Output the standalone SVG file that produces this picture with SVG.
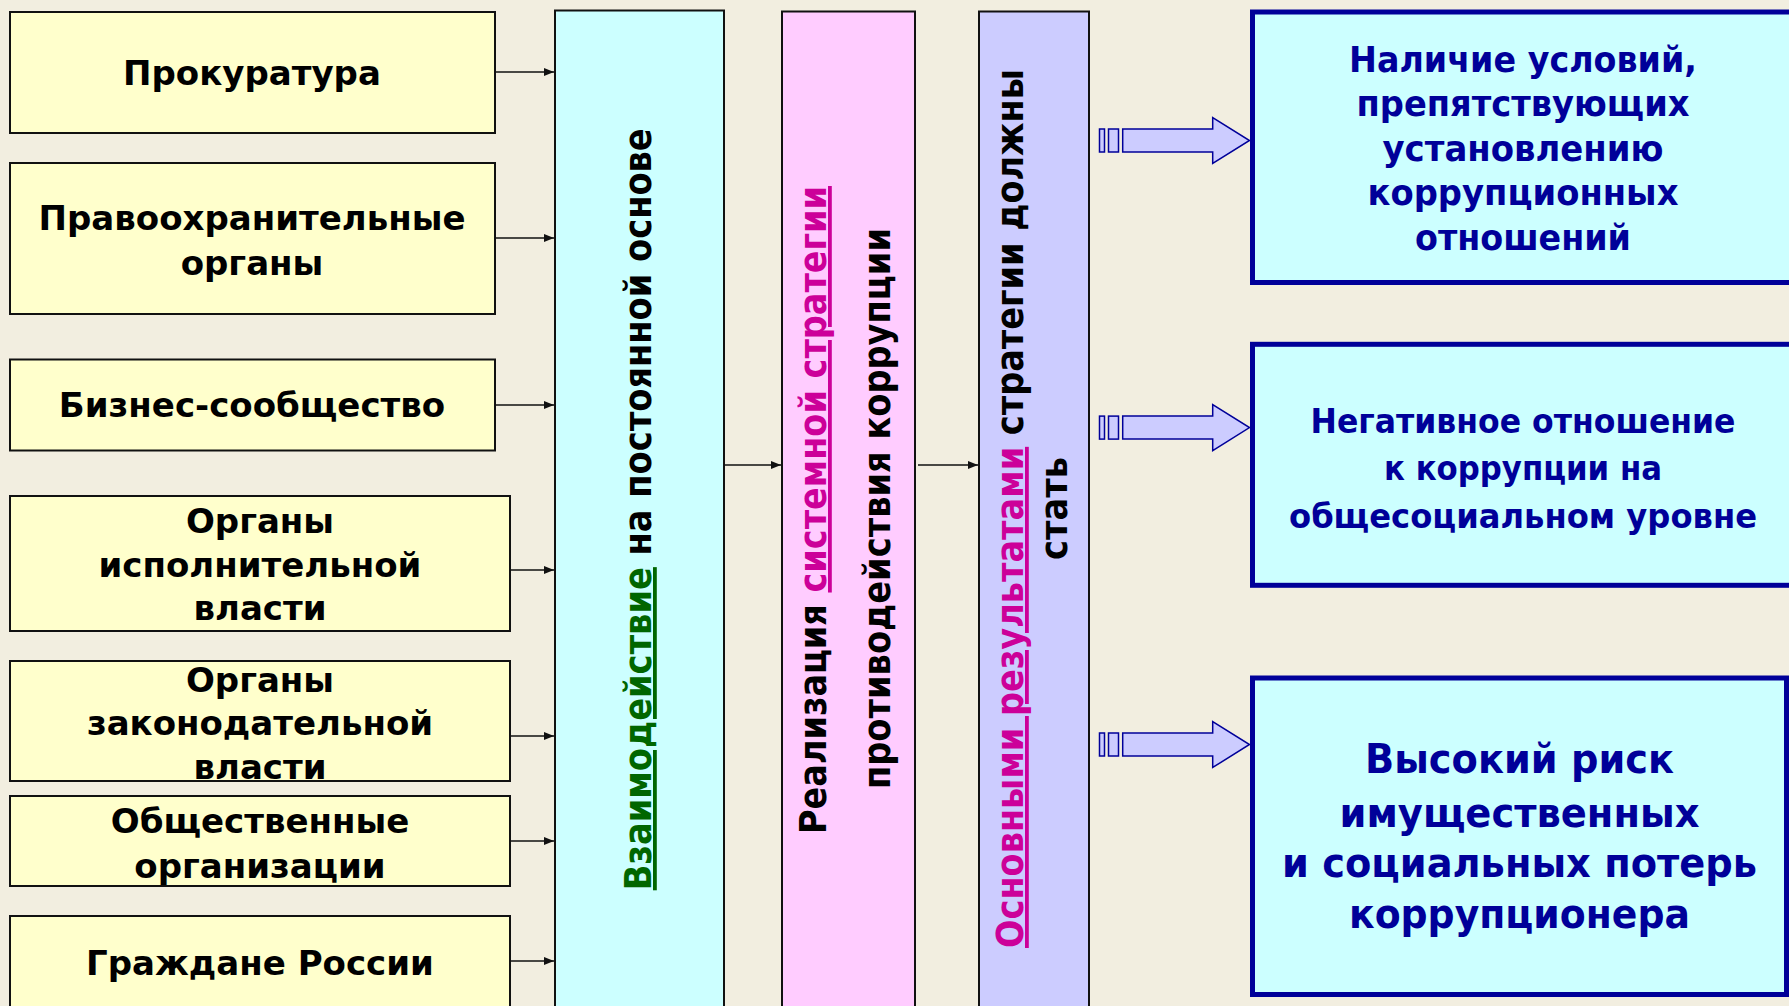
<svg xmlns="http://www.w3.org/2000/svg" width="1789" height="1006" viewBox="0 0 1789 1006">
<defs>
<style>
.bg{fill:#F2EEE0}
.lbox{fill:#FFFFCC;stroke:#111;stroke-width:2}
.panel{stroke:#111;stroke-width:2}
.rbox{fill:#CCFFFF;stroke:#000099;stroke-width:5}
.t{font-family:"DejaVu Sans","Liberation Sans",sans-serif;font-weight:bold;text-anchor:middle}
.lt{font-size:34px;fill:#000}
.vt{font-size:38px;fill:#000}
.rt{fill:#000099}
.green{fill:#006600;text-decoration:underline}
.mag{fill:#CC0099;text-decoration:underline}
.conn{stroke:#111;stroke-width:1.5;fill:none;marker-end:url(#ah)}
.barrow{fill:#CCCCFF;stroke:#000099;stroke-width:1.5}
</style>
<marker id="ah" viewBox="0 0 10 8" refX="10" refY="4" markerWidth="10" markerHeight="8" markerUnits="userSpaceOnUse" orient="auto">
<path d="M0,0 L10,4 L0,8 Z" fill="#111"/>
</marker>
<g id="blockArrow">
<rect class="barrow" x="1099.5" y="-11.5" width="5" height="23"/>
<rect class="barrow" x="1108.5" y="-11.5" width="10" height="23"/>
<path class="barrow" d="M1122.7,-11.5 H1212.7 V-23 L1249.5,0 L1212.7,23 V11.5 H1122.7 Z"/>
</g>
</defs>
<rect class="bg" x="0" y="0" width="1789" height="1006"/>

<g id="n-prokuratura">
<rect class="lbox" x="10" y="12" width="485" height="121"/>
<text class="t lt" x="252" y="84.5">Прокуратура</text>
</g>
<g id="n-pravo">
<rect class="lbox" x="10" y="163" width="485" height="151"/>
<text class="t lt" x="252" y="229.5">Правоохранительные</text>
<text class="t lt" x="252" y="274.5">органы</text>
</g>
<g id="n-biznes">
<rect class="lbox" x="10" y="359.5" width="485" height="91"/>
<text class="t lt" x="252" y="417">Бизнес-сообщество</text>
</g>
<g id="n-ispoln">
<rect class="lbox" x="10" y="496" width="500" height="135"/>
<text class="t lt" x="260" y="532.5">Органы</text>
<text class="t lt" x="260" y="576.5">исполнительной</text>
<text class="t lt" x="260" y="620">власти</text>
</g>
<g id="n-zakon">
<rect class="lbox" x="10" y="661" width="500" height="120"/>
<text class="t lt" x="260" y="692">Органы</text>
<text class="t lt" x="260" y="735">законодательной</text>
<text class="t lt" x="260" y="778.5">власти</text>
</g>
<g id="n-obshch">
<rect class="lbox" x="10" y="796" width="500" height="90"/>
<text class="t lt" x="260" y="833">Общественные</text>
<text class="t lt" x="260" y="877.5">организации</text>
</g>
<g id="n-grazhdane">
<rect class="lbox" x="10" y="916" width="500" height="110"/>
<text class="t lt" x="260" y="974.5">Граждане России</text>
</g>

<g id="n-vzaimo">
<rect class="panel" x="555" y="10.5" width="169" height="1010" fill="#CCFFFF"/>
<text class="t vt" transform="translate(651,509.3) rotate(-90)" textLength="762" lengthAdjust="spacingAndGlyphs"><tspan class="green">Взаимодействие</tspan> на постоянной основе</text>
</g>
<g id="n-realiz">
<rect class="panel" x="782" y="11.5" width="133" height="1010" fill="#FFCCFF"/>
<text class="t vt" transform="translate(826,510) rotate(-90)" textLength="648" lengthAdjust="spacingAndGlyphs">Реализация <tspan class="mag">системной стратегии</tspan></text>
<text class="t vt" transform="translate(890,508.5) rotate(-90)" textLength="561" lengthAdjust="spacingAndGlyphs">противодействия коррупции</text>
</g>
<g id="n-osnov">
<rect class="panel" x="979" y="11.5" width="110" height="1010" fill="#CCCCFF"/>
<text class="t vt" transform="translate(1023,508.5) rotate(-90)" textLength="879" lengthAdjust="spacingAndGlyphs"><tspan class="mag">Основными результатами</tspan> стратегии должны</text>
<text class="t vt" transform="translate(1067,508.4) rotate(-90)" textLength="103" lengthAdjust="spacingAndGlyphs">стать</text>
</g>

<g id="n-res1">
<rect class="rbox" x="1252.5" y="12" width="541" height="270.5"/>
<text class="t rt" font-size="36" x="1523" y="72" textLength="348" lengthAdjust="spacingAndGlyphs">Наличие условий,</text>
<text class="t rt" font-size="36" x="1523" y="116" textLength="333" lengthAdjust="spacingAndGlyphs">препятствующих</text>
<text class="t rt" font-size="36" x="1523" y="160.5" textLength="281" lengthAdjust="spacingAndGlyphs">установлению</text>
<text class="t rt" font-size="36" x="1523" y="205" textLength="311" lengthAdjust="spacingAndGlyphs">коррупционных</text>
<text class="t rt" font-size="36" x="1523" y="250" textLength="216" lengthAdjust="spacingAndGlyphs">отношений</text>
</g>
<g id="n-res2">
<rect class="rbox" x="1252.5" y="344.3" width="541" height="241"/>
<text class="t rt" font-size="34" x="1523" y="432.5" textLength="425" lengthAdjust="spacingAndGlyphs">Негативное отношение</text>
<text class="t rt" font-size="34" x="1523" y="480.3" textLength="278" lengthAdjust="spacingAndGlyphs">к коррупции на</text>
<text class="t rt" font-size="34" x="1523" y="528" textLength="468" lengthAdjust="spacingAndGlyphs">общесоциальном уровне</text>
</g>
<g id="n-res3">
<rect class="rbox" x="1252.5" y="678" width="534" height="316.5"/>
<text class="t rt" font-size="40" x="1519.5" y="773.3" textLength="309" lengthAdjust="spacingAndGlyphs">Высокий риск</text>
<text class="t rt" font-size="40" x="1519.5" y="826.7" textLength="360" lengthAdjust="spacingAndGlyphs">имущественных</text>
<text class="t rt" font-size="40" x="1519.5" y="876.7" textLength="475" lengthAdjust="spacingAndGlyphs">и социальных потерь</text>
<text class="t rt" font-size="40" x="1519.5" y="927.7" textLength="341" lengthAdjust="spacingAndGlyphs">коррупционера</text>
</g>

<g id="connectors">
<line class="conn" x1="495" y1="72" x2="554" y2="72"/>
<line class="conn" x1="495" y1="238" x2="554" y2="238"/>
<line class="conn" x1="495" y1="405" x2="554" y2="405"/>
<line class="conn" x1="510" y1="570" x2="554" y2="570"/>
<line class="conn" x1="510" y1="736" x2="554" y2="736"/>
<line class="conn" x1="510" y1="841" x2="554" y2="841"/>
<line class="conn" x1="510" y1="961" x2="554" y2="961"/>
<line class="conn" x1="724" y1="465" x2="781" y2="465"/>
<line class="conn" x1="918" y1="465" x2="978" y2="465"/>
<use href="#blockArrow" transform="translate(0,140.5)"/>
<use href="#blockArrow" transform="translate(0,427.6)"/>
<use href="#blockArrow" transform="translate(0,744.5)"/>
</g>
</svg>
